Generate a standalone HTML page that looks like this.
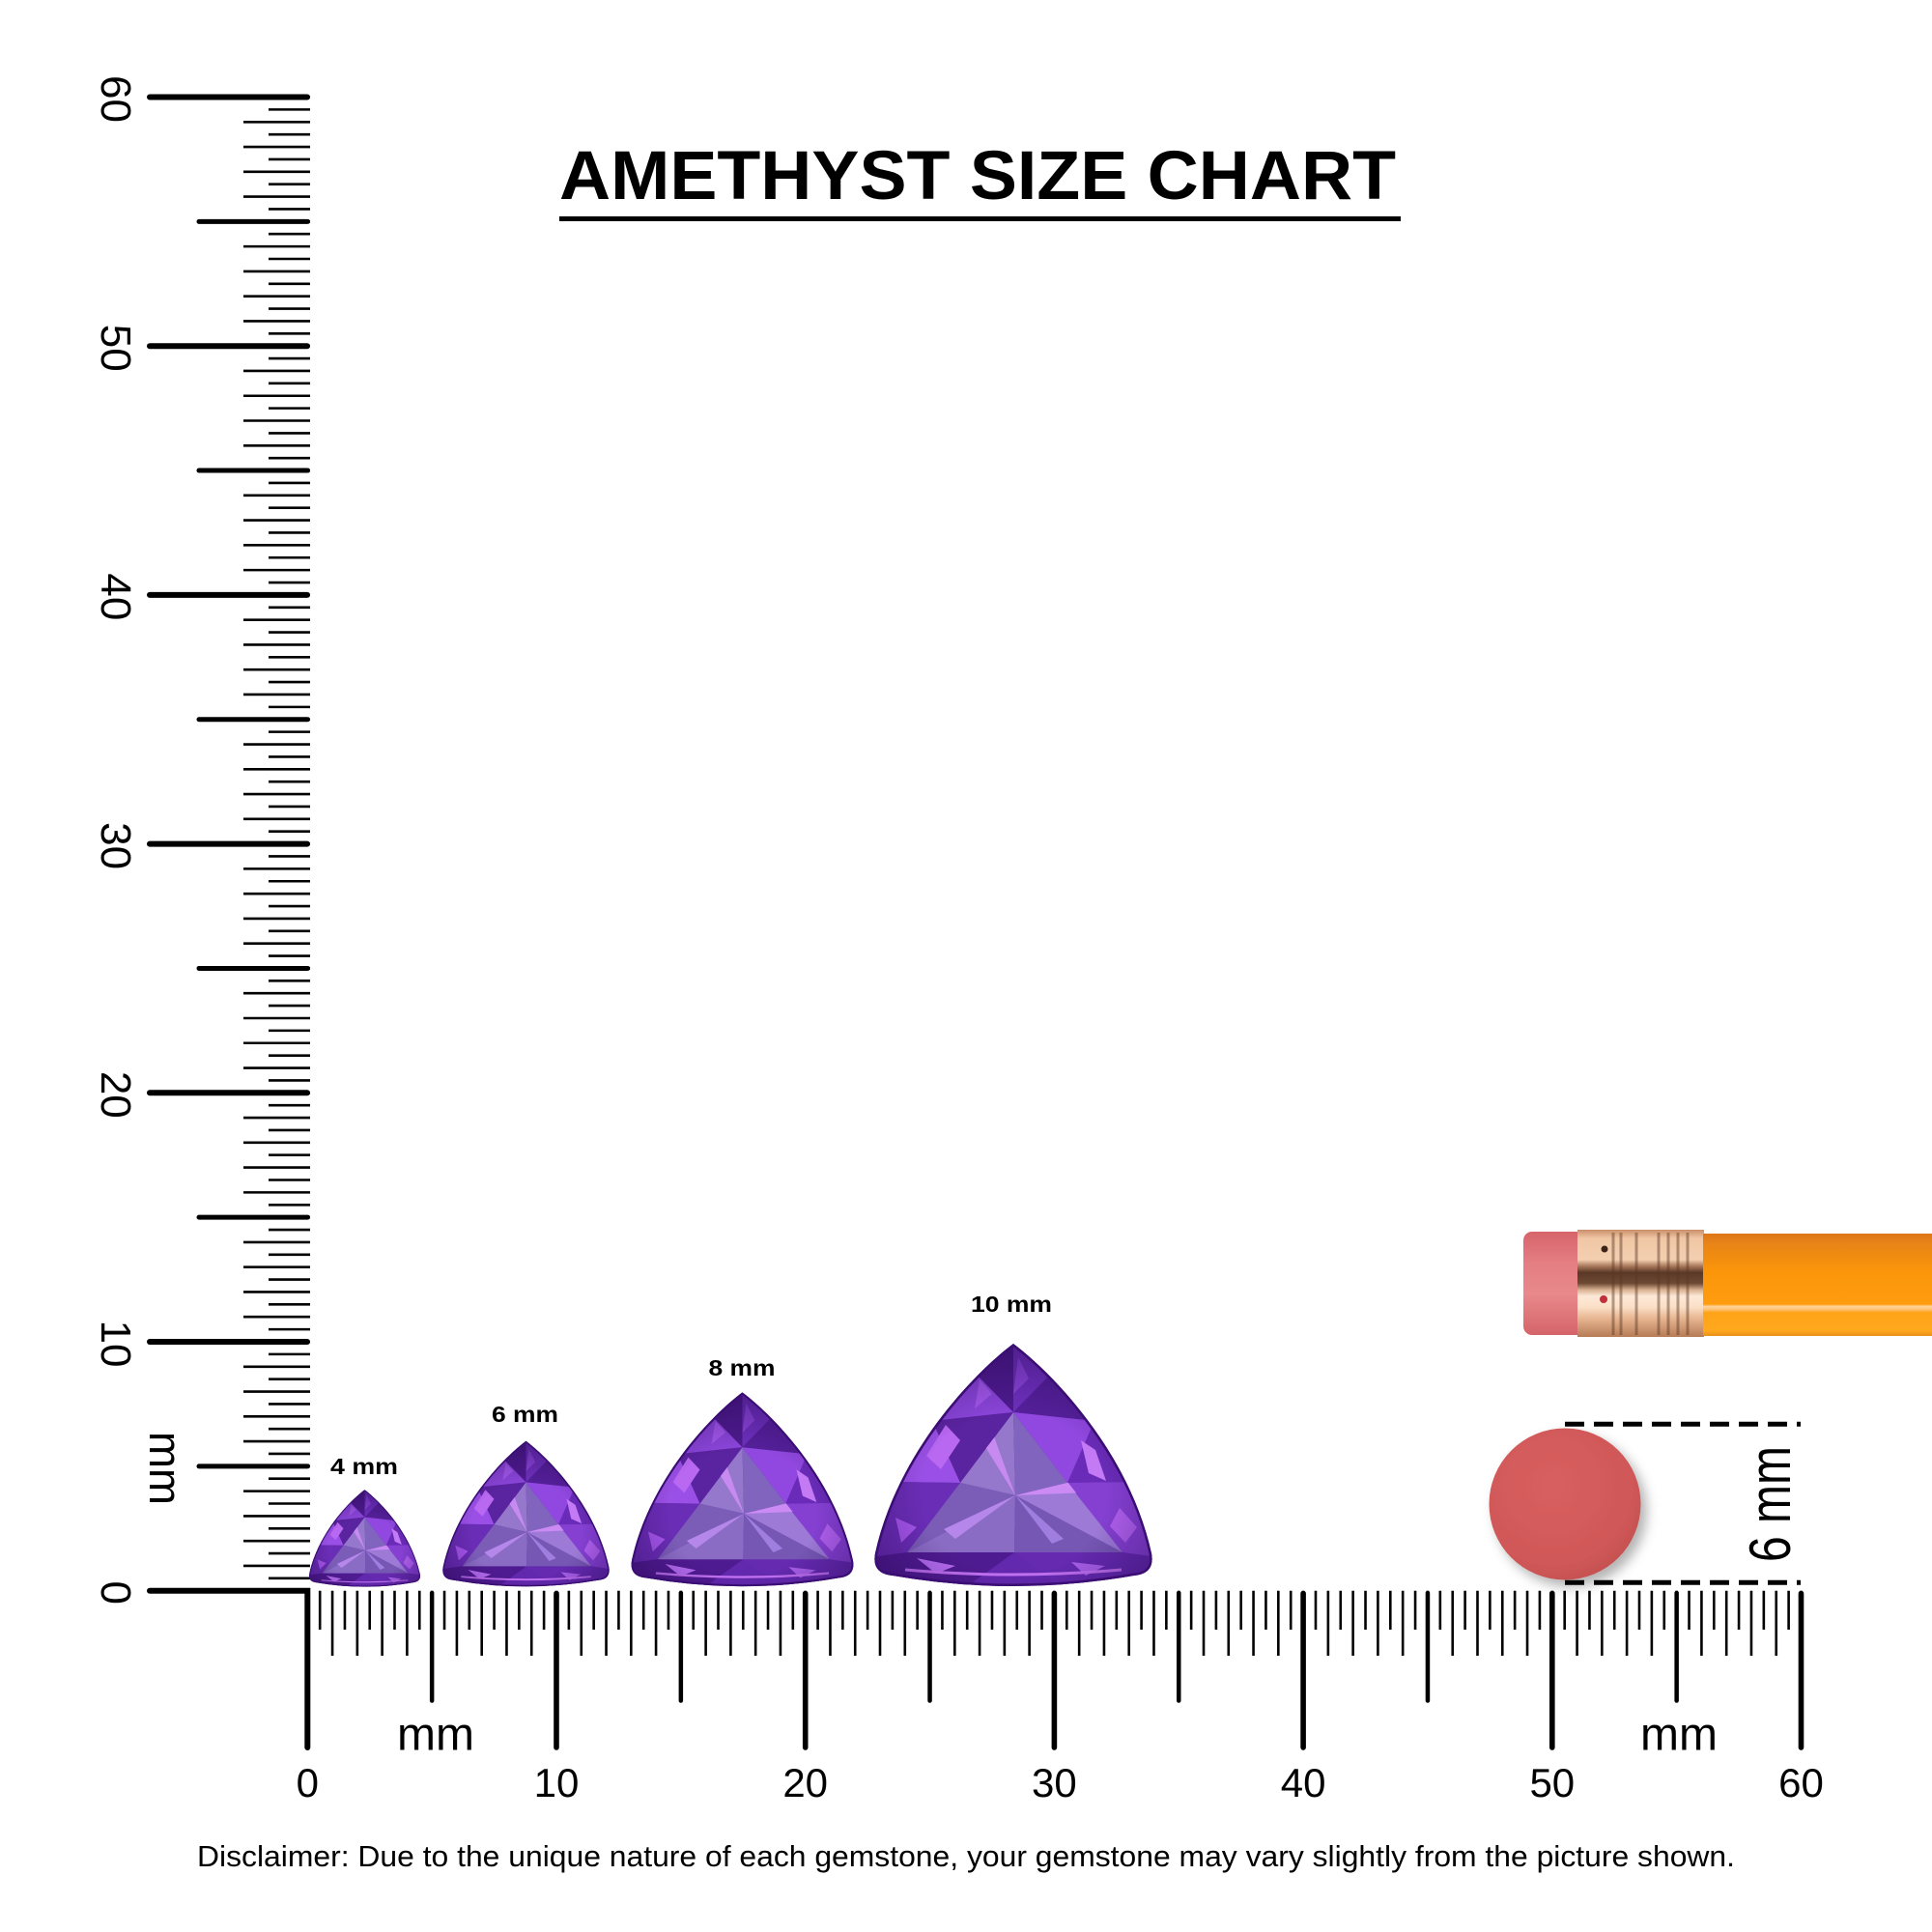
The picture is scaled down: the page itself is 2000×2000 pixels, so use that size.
<!DOCTYPE html>
<html>
<head>
<meta charset="utf-8">
<style>
  html,body{margin:0;padding:0;background:#fff;}
  svg{display:block;}
  text{font-family:"Liberation Sans", Arial, sans-serif;fill:#000;}
</style>
</head>
<body>
<svg width="2000" height="2000" viewBox="0 0 2000 2000" xmlns="http://www.w3.org/2000/svg">
  <defs>
    <linearGradient id="eraser" x1="0" y1="0" x2="0" y2="1">
      <stop offset="0" stop-color="#d6646b"/>
      <stop offset="0.3" stop-color="#e47e83"/>
      <stop offset="0.6" stop-color="#e8898b"/>
      <stop offset="1" stop-color="#d5646a"/>
    </linearGradient>
    <linearGradient id="gold" x1="0" y1="0" x2="0" y2="1">
      <stop offset="0" stop-color="#c98e6a"/>
      <stop offset="0.08" stop-color="#f0c7a5"/>
      <stop offset="0.28" stop-color="#f3cfb0"/>
      <stop offset="0.34" stop-color="#a8785a"/>
      <stop offset="0.4" stop-color="#5a3826"/>
      <stop offset="0.5" stop-color="#6e4a34"/>
      <stop offset="0.56" stop-color="#d8b090"/>
      <stop offset="0.62" stop-color="#fde9d8"/>
      <stop offset="0.72" stop-color="#fbe0c8"/>
      <stop offset="0.82" stop-color="#e9b894"/>
      <stop offset="1" stop-color="#b57b55"/>
    </linearGradient>
    <linearGradient id="orange" x1="0" y1="0" x2="0" y2="1">
      <stop offset="0" stop-color="#dc7618"/>
      <stop offset="0.1" stop-color="#e98418"/>
      <stop offset="0.22" stop-color="#f08c10"/>
      <stop offset="0.38" stop-color="#fb960a"/>
      <stop offset="0.69" stop-color="#ff9c10"/>
      <stop offset="0.71" stop-color="#ffd398"/>
      <stop offset="0.74" stop-color="#ffc276"/>
      <stop offset="0.77" stop-color="#ffa418"/>
      <stop offset="0.95" stop-color="#ffa81e"/>
      <stop offset="1" stop-color="#e8901a"/>
    </linearGradient>
    <radialGradient id="pill" cx="0.42" cy="0.38" r="0.65">
      <stop offset="0" stop-color="#d95f5f"/>
      <stop offset="0.8" stop-color="#d05858"/>
      <stop offset="1" stop-color="#c55050"/>
    </radialGradient>
    <filter id="shadow" x="-30%" y="-30%" width="170%" height="170%">
      <feDropShadow dx="6" dy="7" stdDeviation="6" flood-color="#000" flood-opacity="0.3"/>
    </filter>
    <radialGradient id="gemshade" cx="0.5" cy="0.62" r="0.6">
      <stop offset="0.55" stop-color="#1a0040" stop-opacity="0"/>
      <stop offset="1" stop-color="#1a0040" stop-opacity="0.35"/>
    </radialGradient>
    <clipPath id="gemclip">
      <path d="M0,-252 C-40,-222 -120,-140 -143,-35 Q-147,-14 -125,-12 Q0,10 125,-12 Q147,-14 143,-35 C120,-140 40,-222 0,-252 Z"/>
    </clipPath>
    <clipPath id="tableclip">
      <path d="M0,-181 L-110,-36 Q1,-31 113,-36 Z"/>
    </clipPath>
    <g id="gem">
      <path d="M0,-252 C-40,-222 -120,-140 -143,-35 Q-147,-14 -125,-12 Q0,10 125,-12 Q147,-14 143,-35 C120,-140 40,-222 0,-252 Z" fill="#6228ad"/>
      <g clip-path="url(#gemclip)">
        <!-- crown facets -->
        <polygon points="0,-260 -40,-222 0,-181" fill="#4e1b8e"/>
        <polygon points="0,-260 40,-222 0,-181" fill="#6e30bd"/>
        <polygon points="-40,-222 -84,-172 0,-181" fill="#8a45d8"/>
        <polygon points="-84,-172 -55,-108 0,-181" fill="#5a239f"/>
        <polygon points="-84,-172 -125,-109 -55,-108" fill="#9a50e6"/>
        <polygon points="-125,-109 -155,-30 -110,-36 -55,-108" fill="#6a2db5"/>
        <polygon points="40,-222 84,-172 0,-181" fill="#55209a"/>
        <polygon points="84,-172 56,-108 0,-181" fill="#9148e0"/>
        <polygon points="84,-172 125,-109 56,-108" fill="#6a2cb8"/>
        <polygon points="125,-109 155,-30 113,-36 56,-108" fill="#8540d2"/>
        <polygon points="-155,-30 -130,5 -60,8 1,-36 -110,-36" fill="#4f1b90"/>
        <polygon points="155,-30 130,5 60,8 1,-36 113,-36" fill="#652ab0"/>
        <!-- highlight shards -->
        <polygon points="-70,-168 -55,-152 -75,-122 -90,-136" fill="#b968f2"/>
        <polygon points="-35,-215 -22,-200 -40,-185" fill="#a258ea"/>
        <polygon points="70,-152 85,-142 96,-110 78,-118" fill="#c57af5"/>
        <polygon points="110,-82 128,-62 116,-46 100,-63" fill="#b060ee"/>
        <polygon points="-122,-72 -100,-62 -116,-46" fill="#a555ea"/>
        <polygon points="5,-238 16,-216 0,-200" fill="#8a44d8"/>
        <polygon points="-100,-30 -60,-22 -80,-14" fill="#b56cf0"/>
        <polygon points="60,-26 95,-22 75,-12" fill="#a85fe8"/>
        <path d="M-112,-18 Q0,-8 112,-18" fill="none" stroke="#c070f0" stroke-width="3"/>
        <!-- table -->
        <g clip-path="url(#tableclip)">
          <polygon points="0,-181 -55,-108 2,-95" fill="#9577cc"/>
          <polygon points="-55,-108 -110,-36 2,-95" fill="#7b5db8"/>
          <polygon points="-110,-36 1,-36 2,-95" fill="#8a6cc4"/>
          <polygon points="1,-36 113,-36 2,-95" fill="#7657b4"/>
          <polygon points="113,-36 56,-108 2,-95" fill="#9c7ad6"/>
          <polygon points="56,-108 0,-181 2,-95" fill="#8064bd"/>
          <polygon points="2,-95 72,-112 78,-98" fill="#cc8af5"/>
          <polygon points="2,-95 -32,-150 -20,-156" fill="#c68af0"/>
          <polygon points="2,-95 -72,-60 -60,-50" fill="#b587ea"/>
          <polygon points="2,-95 40,-45 52,-50" fill="#a07ee0"/>
        </g>
        <path d="M0,-252 C-40,-222 -120,-140 -143,-35 Q-147,-14 -125,-12 Q0,10 125,-12 Q147,-14 143,-35 C120,-140 40,-222 0,-252 Z" fill="url(#gemshade)"/>
        <path d="M0,-252 C-40,-222 -120,-140 -143,-35 Q-147,-14 -125,-12 Q0,10 125,-12 Q147,-14 143,-35 C120,-140 40,-222 0,-252 Z" fill="none" stroke="#3a0e72" stroke-width="5"/>
      </g>
    </g>
  </defs>

  <rect width="2000" height="2000" fill="#fff"/>

  <!-- Title -->
  <text x="579" y="206" font-weight="700" font-size="71" textLength="866" lengthAdjust="spacingAndGlyphs">AMETHYST SIZE CHART</text>
  <rect x="579" y="224" width="871" height="5" fill="#000"/>

  <!-- Vertical ruler minor ticks -->
  <line x1="286.5" y1="1648" x2="286.5" y2="99" stroke="#000" stroke-width="69" stroke-dasharray="2.6 23.17"/>
  <line x1="299.5" y1="1635.115" x2="299.5" y2="110" stroke="#000" stroke-width="43" stroke-dasharray="2.6 23.17"/>
  <!-- Vertical ruler 5mm ticks -->
  <g stroke="#000" stroke-width="5" stroke-linecap="round">
    <line x1="206" y1="1517.85" x2="318.5" y2="1517.85"/>
    <line x1="206" y1="1260.15" x2="318.5" y2="1260.15"/>
    <line x1="206" y1="1002.45" x2="318.5" y2="1002.45"/>
    <line x1="206" y1="744.75" x2="318.5" y2="744.75"/>
    <line x1="206" y1="487.05" x2="318.5" y2="487.05"/>
    <line x1="206" y1="229.35" x2="318.5" y2="229.35"/>
  </g>
  <!-- Vertical ruler 10mm ticks -->
  <g stroke="#000" stroke-width="6" stroke-linecap="round">
    <line x1="155" y1="1389" x2="318" y2="1389"/>
    <line x1="155" y1="1131.3" x2="318" y2="1131.3"/>
    <line x1="155" y1="873.6" x2="318" y2="873.6"/>
    <line x1="155" y1="615.9" x2="318" y2="615.9"/>
    <line x1="155" y1="358.2" x2="318" y2="358.2"/>
    <line x1="155" y1="100.5" x2="318" y2="100.5"/>
  </g>

  <!-- Horizontal ruler minor ticks -->
  <line x1="317" y1="1680.35" x2="1866" y2="1680.35" stroke="#000" stroke-width="67.3" stroke-dasharray="2.6 23.17"/>
  <line x1="329.885" y1="1666.85" x2="1866" y2="1666.85" stroke="#000" stroke-width="40.3" stroke-dasharray="2.6 23.17"/>
  <!-- Horizontal 5mm -->
  <g stroke="#000" stroke-width="4.5" stroke-linecap="round">
    <line x1="447.15" y1="1649" x2="447.15" y2="1760.5"/>
    <line x1="704.85" y1="1649" x2="704.85" y2="1760.5"/>
    <line x1="962.55" y1="1649" x2="962.55" y2="1760.5"/>
    <line x1="1220.25" y1="1649" x2="1220.25" y2="1760.5"/>
    <line x1="1477.95" y1="1649" x2="1477.95" y2="1760.5"/>
    <line x1="1735.65" y1="1649" x2="1735.65" y2="1760.5"/>
  </g>
  <!-- Horizontal 10mm -->
  <g stroke="#000" stroke-width="5.6" stroke-linecap="round">
    <line x1="576" y1="1649.5" x2="576" y2="1809"/>
    <line x1="833.7" y1="1649.5" x2="833.7" y2="1809"/>
    <line x1="1091.4" y1="1649.5" x2="1091.4" y2="1809"/>
    <line x1="1349.1" y1="1649.5" x2="1349.1" y2="1809"/>
    <line x1="1606.8" y1="1649.5" x2="1606.8" y2="1809"/>
    <line x1="1864.5" y1="1649.5" x2="1864.5" y2="1809"/>
  </g>
  <!-- Corner (0 ticks) -->
  <polyline points="155,1646.7 318.3,1646.7 318.3,1809" fill="none" stroke="#000" stroke-width="6" stroke-linejoin="miter" stroke-linecap="round"/>

  <!-- Vertical ruler labels (rotated CW) -->
  <g font-size="44" text-anchor="middle">
    <text transform="translate(105,1648.7) rotate(90)">0</text>
    <text transform="translate(105,1391) rotate(90)">10</text>
    <text transform="translate(105,1133.3) rotate(90)">20</text>
    <text transform="translate(105,875.6) rotate(90)">30</text>
    <text transform="translate(105,617.9) rotate(90)">40</text>
    <text transform="translate(105,360.2) rotate(90)">50</text>
    <text transform="translate(105,102.5) rotate(90)">60</text>
  </g>
  <text transform="translate(155,1520) rotate(90)" font-size="47" text-anchor="middle" textLength="76" lengthAdjust="spacingAndGlyphs">mm</text>

  <!-- Horizontal labels -->
  <g font-size="42" text-anchor="middle">
    <text x="318.3" y="1860">0</text>
    <text x="576" y="1860">10</text>
    <text x="833.7" y="1860">20</text>
    <text x="1091.4" y="1860">30</text>
    <text x="1349.1" y="1860">40</text>
    <text x="1606.8" y="1860">50</text>
    <text x="1864.5" y="1860">60</text>
  </g>
  <text x="451" y="1811.7" font-size="48" text-anchor="middle">mm</text>
  <text x="1738" y="1811.7" font-size="48" text-anchor="middle">mm</text>

  <!-- Gems -->
  <use href="#gem" transform="translate(377.5,1643) scale(0.4)"/>
  <use href="#gem" transform="translate(544.5,1643) scale(0.6)"/>
  <use href="#gem" transform="translate(768.5,1643) scale(0.8)"/>
  <use href="#gem" transform="translate(1049,1643) scale(1)"/>

  <!-- Gem labels -->
  <g font-size="23" font-weight="700" text-anchor="middle">
    <text x="377" y="1526" textLength="70" lengthAdjust="spacingAndGlyphs">4 mm</text>
    <text x="543.5" y="1472" textLength="69" lengthAdjust="spacingAndGlyphs">6 mm</text>
    <text x="768" y="1424" textLength="69" lengthAdjust="spacingAndGlyphs">8 mm</text>
    <text x="1047" y="1358" textLength="84" lengthAdjust="spacingAndGlyphs">10 mm</text>
  </g>

  <!-- Pencil -->
  <rect x="1577" y="1275" width="64" height="107" rx="9" fill="url(#eraser)"/>
  <rect x="1633" y="1273" width="131" height="111" fill="url(#gold)"/>
  <g stroke="#5a3723" stroke-opacity="0.45" stroke-width="3">
    <line x1="1670" y1="1276" x2="1670" y2="1382"/>
    <line x1="1678" y1="1276" x2="1678" y2="1382"/>
    <line x1="1694" y1="1276" x2="1694" y2="1382"/>
    <line x1="1717" y1="1276" x2="1717" y2="1382"/>
    <line x1="1727" y1="1276" x2="1727" y2="1382"/>
    <line x1="1737" y1="1276" x2="1737" y2="1382"/>
    <line x1="1747" y1="1276" x2="1747" y2="1382"/>
  </g>
  <circle cx="1661" cy="1293" r="3.5" fill="#3a2418"/>
  <circle cx="1660" cy="1345" r="4" fill="#c0303a"/>
  <rect x="1763" y="1277" width="237" height="106" fill="url(#orange)"/>

  <!-- Pill / circle -->
  <circle cx="1620" cy="1557" r="78.5" fill="url(#pill)" filter="url(#shadow)"/>

  <!-- Dashed lines -->
  <line x1="1620" y1="1474.3" x2="1864" y2="1474.3" stroke="#000" stroke-width="5" stroke-dasharray="20 10"/>
  <line x1="1620" y1="1638.3" x2="1864" y2="1638.3" stroke="#000" stroke-width="5" stroke-dasharray="20 10"/>

  <!-- 6 mm rotated CCW -->
  <text transform="translate(1853,1557) rotate(-90)" font-size="60" text-anchor="middle" textLength="120" lengthAdjust="spacingAndGlyphs">6 mm</text>

  <!-- Disclaimer -->
  <text x="204" y="1932" font-size="31" textLength="1592" lengthAdjust="spacingAndGlyphs">Disclaimer: Due to the unique nature of each gemstone, your gemstone may vary slightly from the picture shown.</text>
</svg>
</body>
</html>
